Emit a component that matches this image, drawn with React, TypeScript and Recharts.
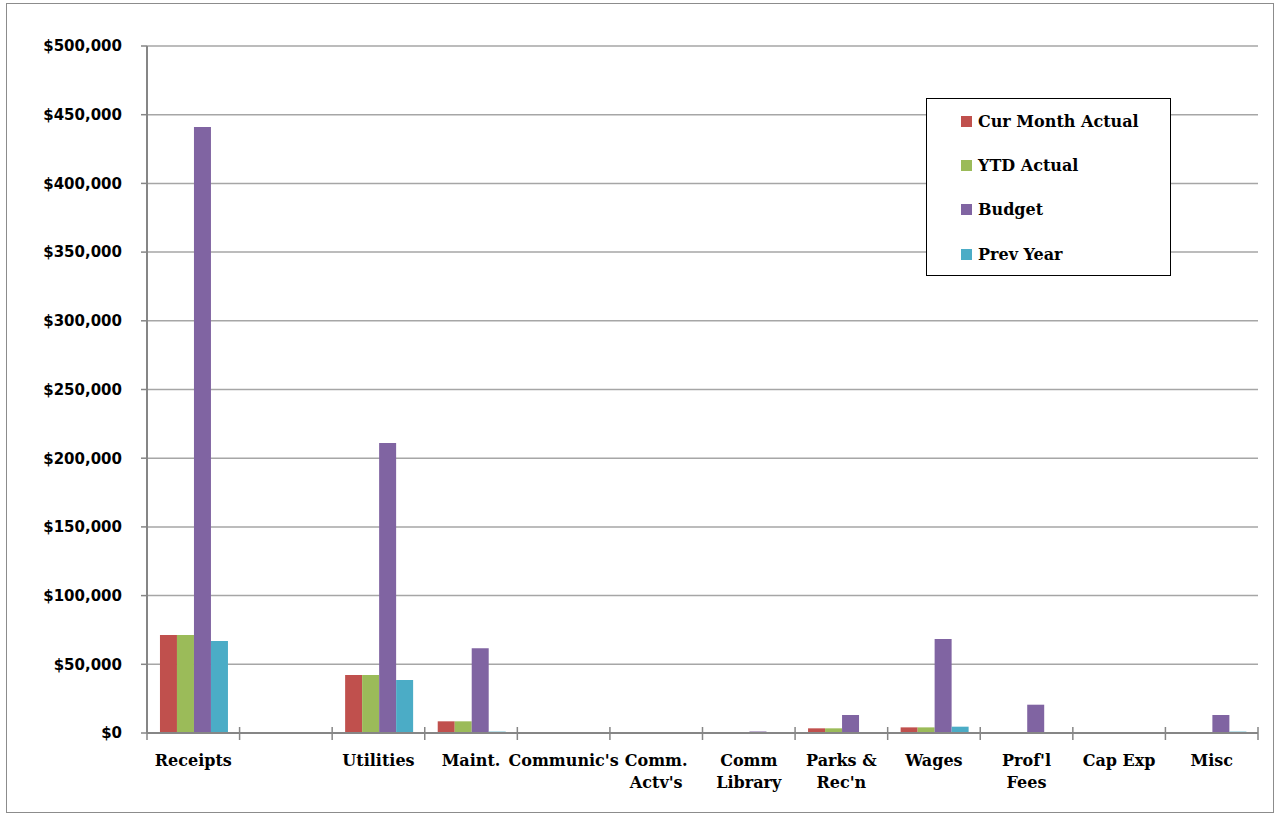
import { Bar, BarChart, CartesianGrid, XAxis, YAxis } from "recharts";

const categories = [
  "Receipts",
  "",
  "Utilities",
  "Maint.",
  "Communic's",
  "Comm. Actv's",
  "Comm Library",
  "Parks & Rec'n",
  "Wages",
  "Prof'l Fees",
  "Cap Exp",
  "Misc",
];

const tickLines = [
  ["Receipts"],
  [""],
  ["Utilities"],
  ["Maint."],
  ["Communic's"],
  ["Comm.", "Actv's"],
  ["Comm", "Library"],
  ["Parks &", "Rec'n"],
  ["Wages"],
  ["Prof'l", "Fees"],
  ["Cap Exp"],
  ["Misc"],
];

const curMonthActual = [71300, 0, 42200, 8500, 0, 0, 0, 3400, 4100, 0, 0, 300];
const ytdActual = [71300, 0, 42200, 8500, 0, 0, 0, 3400, 4100, 0, 0, 100];
const budget = [441000, 0, 211000, 61600, 0, 0, 1100, 13100, 68400, 20600, 0, 13100];
const prevYear = [67000, 0, 38600, 1000, 0, 0, 0, 0, 4600, 0, 0, 1000];

const yTicks = [0, 50000, 100000, 150000, 200000, 250000, 300000, 350000, 400000, 450000, 500000];

const series = [
  { key: "cur", name: "Cur Month Actual", color: "#C0504D" },
  { key: "ytd", name: "YTD Actual", color: "#9BBB59" },
  { key: "budget", name: "Budget", color: "#8064A2" },
  { key: "prev", name: "Prev Year", color: "#4BACC6" },
];

const data = categories.map((name, i) => ({
  name,
  cur: curMonthActual[i],
  ytd: ytdActual[i],
  budget: budget[i],
  prev: prevYear[i],
}));

const W = 1276;
const H = 815;
const PLOT_LEFT = 147;
const PLOT_RIGHT = 1258;
const BAND = (PLOT_RIGHT - PLOT_LEFT) / categories.length;

const serif = "'DejaVu Serif', serif";

function CategoryTick(props: any) {
  const { x, y, index } = props;
  const lines = tickLines[index] || [];
  return (
    <g>
      <line x1={x - BAND / 2} x2={x - BAND / 2} y1={y - 6} y2={y + 7} stroke="#868686" strokeWidth={1.5} />
      {index === categories.length - 1 ? (
        <line x1={x + BAND / 2} x2={x + BAND / 2} y1={y - 6} y2={y + 7} stroke="#868686" strokeWidth={1.5} />
      ) : null}
      {lines.map((t, j) => (
        <text
          key={j}
          x={x}
          y={y + 33 + j * 22}
          textAnchor="middle"
          fill="#000"
          style={{ fontFamily: serif, fontWeight: 700, fontSize: 16 }}
        >
          {t}
        </text>
      ))}
    </g>
  );
}

function LegendBox() {
  return (
    <div
      style={{
        position: "absolute",
        left: 926,
        top: 98,
        width: 245,
        height: 178,
        boxSizing: "border-box",
        border: "1.5px solid #000",
        background: "#fff",
        paddingTop: 0,
        paddingLeft: 34,
      }}
    >
      {series.map((s) => (
        <div key={s.key} style={{ display: "flex", alignItems: "center", height: 44.3 }}>
          <span style={{ width: 11, height: 11, background: s.color, marginRight: 6 }} />
          <span style={{ fontFamily: serif, fontWeight: 700, fontSize: 16, color: "#000" }}>{s.name}</span>
        </div>
      ))}
    </div>
  );
}

const money = (v: number) => "$" + v.toLocaleString("en-US");

export default function App() {
  return (
    <div style={{ position: "absolute", left: 0, top: 0, width: W, height: H, background: "#fff" }}>
      <div
        style={{
          position: "absolute",
          left: 6,
          top: 3,
          width: 1266,
          height: 808,
          border: "1px solid #8c8c8c",
        }}
      />
      <div style={{ position: "absolute", left: 0, top: 0 }}>
        <BarChart
          width={W}
          height={H}
          data={data}
          margin={{ top: 46, right: W - PLOT_RIGHT, left: 0, bottom: 0 }}
          barCategoryGap="14%"
          barGap={0}
        >
          <CartesianGrid stroke="#a6a6a6" strokeWidth={1.5} vertical={false} />
          <XAxis
            dataKey="name"
            interval={0}
            height={82}
            tickSize={0}
            tickMargin={0}
            tickLine={false}
            axisLine={{ stroke: "#868686", strokeWidth: 2 }}
            tick={<CategoryTick />}
          />
          <YAxis
            width={PLOT_LEFT}
            domain={[0, 500000]}
            ticks={yTicks}
            interval={0}
            tickFormatter={money}
            tickSize={6}
            tickMargin={19}
            tickLine={{ stroke: "#868686", strokeWidth: 1.5 }}
            axisLine={{ stroke: "#868686", strokeWidth: 2 }}
            tick={{
              fill: "#000",
              fontFamily: "'DejaVu Sans', sans-serif",
              fontWeight: 700,
              fontSize: 15,
            }}
          />
          {series.map((s) => (
            <Bar key={s.key} dataKey={s.key} name={s.name} fill={s.color} isAnimationActive={false} />
          ))}
        </BarChart>
      </div>
      <LegendBox />
    </div>
  );
}
